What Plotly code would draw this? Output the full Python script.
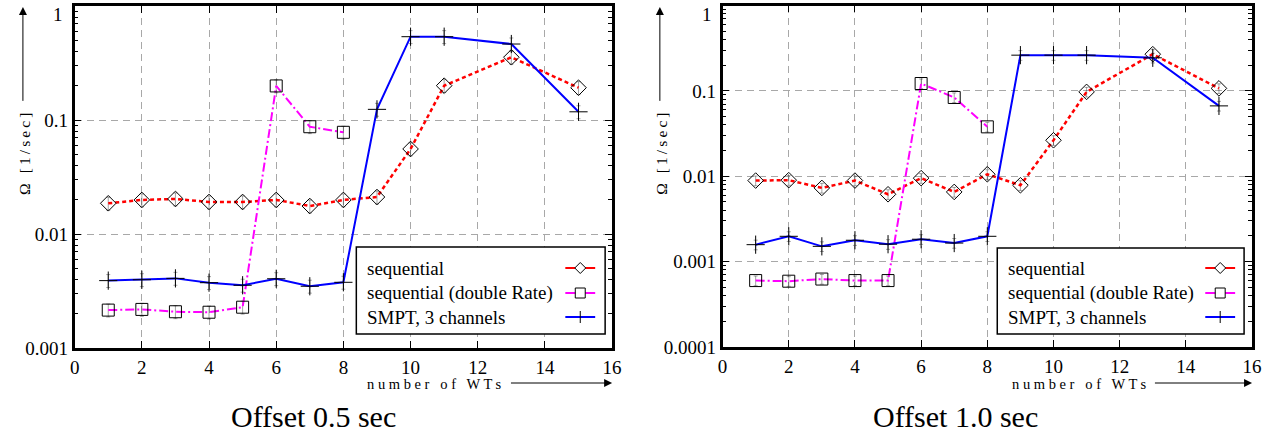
import plotly.graph_objects as go

W, H = 1263, 432          # reference picture size (layout coordinates below)
FW, FH = 1271, 443        # figure size that the capture maps onto W x H

# ---------------- data ----------------
x_seq = [1, 2, 3, 4, 5, 6, 7, 8, 9, 10, 11, 13, 15]
x_dbl = [1, 2, 3, 4, 5, 6, 7, 8]
x_smpt = [1, 2, 3, 4, 5, 6, 7, 8, 9, 10, 11, 13, 15]

# Offset 0.5 sec
seq_05 = [0.0186, 0.0199, 0.0203, 0.0191, 0.0191, 0.0199, 0.0176, 0.0199, 0.0211, 0.0557, 0.200, 0.355, 0.192]
dbl_05 = [0.00215, 0.00218, 0.00208, 0.00206, 0.00228, 0.199, 0.0873, 0.078]
smpt_05 = [0.0039, 0.00397, 0.00408, 0.00374, 0.00355, 0.00405, 0.00348, 0.00377, 0.124, 0.538, 0.538, 0.464, 0.118]

# Offset 1.0 sec
seq_10 = [0.0089, 0.0090, 0.0073, 0.0089, 0.00615, 0.0095, 0.00655, 0.01055, 0.00784, 0.0264, 0.0973, 0.269, 0.107]
dbl_10 = [0.00060, 0.00059, 0.000625, 0.00060, 0.00060, 0.122, 0.0837, 0.0379]
smpt_10 = [0.00158, 0.00198, 0.00151, 0.00178, 0.0016, 0.00183, 0.00165, 0.00198, 0.262, 0.262, 0.262, 0.244, 0.0667]

err_pct = 13  # relative error bar size (%)

series_names = ["sequential", "sequential (double Rate)", "SMPT, 3 channels"]
titles = ["Offset 0.5 sec", "Offset 1.0 sec"]
x_ticks = [0, 2, 4, 6, 8, 10, 12, 14, 16]
y_ticks_left = [0.001, 0.01, 0.1, 1]
y_ticks_right = [0.0001, 0.001, 0.01, 0.1, 1]
y_text_left = ["0.001", "0.01", "0.1", ""]
y_text_right = ["0.0001", "0.001", "0.01", "0.1", ""]
top_tick_label = "1"   # drawn just below the top edge, as in the reference
y_label = "\u2009".join("Ω [1/sec]")
x_label = "n u m b e r   o f   W T s"

# ---------------- styles ----------------
FONT = "Liberation Serif"
RED, MAG, BLUE = "#ff0000", "#ff00ff", "#0000ff"
styles = [
    dict(color=RED, dash="4px,3px", width=2.5, symbol="diamond-open", size=12),
    dict(color=MAG, dash="9px,3px,2px,3px", width=2, symbol="square-open", size=12),
    dict(color=BLUE, dash="solid", width=2, symbol="cross-thin-open", size=13),
]

fig = go.Figure()


def add_series(xs, ys, st, xa, ya):
    fig.add_trace(go.Scatter(
        x=xs, y=ys, mode="lines+markers", xaxis=xa, yaxis=ya, showlegend=False,
        line=dict(color=st["color"], dash=st["dash"], width=st["width"]),
        marker=dict(symbol=st["symbol"], size=st["size"], color="black",
                    line=dict(width=1, color="black")),
        error_y=dict(type="percent", value=err_pct, thickness=0.8, width=2,
                     color="rgba(0,0,0,0.45)"),
    ))


data_sets = [
    ("x", "y", [(x_seq, seq_05), (x_dbl, dbl_05), (x_smpt, smpt_05)]),
    ("x2", "y2", [(x_seq, seq_10), (x_dbl, dbl_10), (x_smpt, smpt_10)]),
]
for xa, ya, sets in data_sets:
    for (xs, ys), st in zip(sets, styles):
        add_series(xs, ys, st, xa, ya)


def px(x):
    return x / W


def py(y):
    return 1 - y / H


SX, SY = FW / W, FH / H

# panel geometry in reference pixels
panels = [
    dict(x0=70, x1=610, y0=6, y1=348, ylab_x=20, title_x=310, one_x=60,
         leg=(353, 247, 603, 334), leg_text_x=362, leg_sym=(563, 593),
         xl_x=362, arrow=(508, 610)),
    dict(x0=721, x1=1253, y0=5.5, y1=347, ylab_x=660, title_x=955, one_x=712,
         leg=(997, 248, 1245, 334), leg_text_x=1006, leg_sym=(1206, 1236),
         xl_x=1010, arrow=(1155, 1253)),
]

axis_common = dict(
    showline=True, linewidth=2.5, linecolor="black", mirror="allticks",
    ticks="inside", tickcolor="black", ticklen=7, tickwidth=1,
    tickfont=dict(family=FONT, size=19, color="black"),
    showgrid=True, gridcolor="#a8a8a8", gridwidth=1, griddash="7px,5px",
    zeroline=False,
)


def minor_vals(lo, hi):
    vals = []
    for e in range(lo, hi):
        for m in range(2, 10):
            vals.append(m * 10 ** e)
    return vals


layout = dict(
    width=FW, height=FH, margin=dict(l=0, r=0, t=0, b=0, pad=0),
    paper_bgcolor="white", plot_bgcolor="white", showlegend=False,
    font=dict(family=FONT, size=17, color="black"),
)

for i, p in enumerate(panels):
    sfx = "" if i == 0 else "2"
    yt = y_ticks_left if i == 0 else y_ticks_right
    ytt = y_text_left if i == 0 else y_text_right
    lo = -3 if i == 0 else -4
    layout["xaxis" + sfx] = dict(
        axis_common, domain=[px(p["x0"]), px(p["x1"])], range=[0, 16],
        tickmode="array", tickvals=x_ticks, ticktext=[str(v) for v in x_ticks],
        anchor="y" + sfx,
    )
    layout["yaxis" + sfx] = dict(
        axis_common, type="log", domain=[py(p["y1"]), py(p["y0"])], range=[lo, 0],
        tickmode="array", tickvals=yt, ticktext=ytt,
        anchor="x" + sfx,
        minor=dict(tickmode="array", tickvals=minor_vals(lo, 0), ticks="inside",
                   ticklen=4, tickcolor="black", showgrid=False),
    )

fig.update_layout(**layout)

shapes = []
annotations = []
for i, p in enumerate(panels):
    # top "1" tick label
    annotations.append(dict(
        x=px(p["one_x"]), y=py(15), xref="paper", yref="paper", text=top_tick_label,
        xanchor="right", yanchor="middle", showarrow=False,
        font=dict(family=FONT, size=19, color="black"),
    ))
    # y label + arrow
    annotations.append(dict(
        x=px(p["ylab_x"]), y=py(154), xref="paper", yref="paper", text=y_label,
        xanchor="center", yanchor="middle",
        textangle=-90, showarrow=False, font=dict(family=FONT, size=15.5, color="black"),
    ))
    annotations.append(dict(
        x=px(p["ylab_x"] - 2), y=py(7), xref="paper", yref="paper", text="",
        showarrow=True, ax=0, ay=93 * SY, axref="pixel", ayref="pixel",
        arrowhead=2, arrowsize=1.6, arrowwidth=1, arrowcolor="black",
    ))
    # x label + arrow
    annotations.append(dict(
        x=px(p["xl_x"]), y=py(384), xref="paper", yref="paper",
        xanchor="left", yanchor="middle",
        text=x_label, showarrow=False,
        font=dict(family=FONT, size=14.5, color="black"),
    ))
    annotations.append(dict(
        x=px(p["arrow"][1]), y=py(383), xref="paper", yref="paper", text="",
        showarrow=True, ax=-(p["arrow"][1] - p["arrow"][0]) * SX, ay=0,
        axref="pixel", ayref="pixel",
        arrowhead=2, arrowsize=1.6, arrowwidth=1, arrowcolor="black",
    ))
    # subplot title
    annotations.append(dict(
        x=px(p["title_x"]), y=py(416), xref="paper", yref="paper", text=titles[i],
        xanchor="center", yanchor="middle",
        showarrow=False, font=dict(family=FONT, size=30, color="black"),
    ))
    # legend box
    lx0, ly0, lx1, ly1 = p["leg"]
    shapes.append(dict(type="rect", xref="paper", yref="paper",
                       x0=px(lx0), x1=px(lx1), y0=py(ly1), y1=py(ly0),
                       line=dict(color="black", width=1.5), fillcolor="white", layer="above"))
    rows = [268, 293, 317]
    sx0, sx1 = p["leg_sym"]
    cx = (sx0 + sx1) / 2
    for name, st, ry in zip(series_names, styles, rows):
        annotations.append(dict(
            x=px(p["leg_text_x"]), y=py(ry), xref="paper", yref="paper",
            xanchor="left", yanchor="middle",
            text=name, showarrow=False, font=dict(family=FONT, size=19, color="black"),
        ))
        shapes.append(dict(type="line", xref="paper", yref="paper",
                           x0=px(sx0), x1=px(sx1), y0=py(ry), y1=py(ry),
                           line=dict(color=st["color"], width=2), layer="above"))
        r = 5.5
        if st["symbol"].startswith("diamond"):
            path = "M %f %f L %f %f L %f %f L %f %f Z" % (
                px(cx - r), py(ry), px(cx), py(ry - r), px(cx + r), py(ry), px(cx), py(ry + r))
            shapes.append(dict(type="path", xref="paper", yref="paper", path=path,
                               fillcolor="white", line=dict(color="black", width=1), layer="above"))
        elif st["symbol"].startswith("square"):
            rr = 5
            shapes.append(dict(type="rect", xref="paper", yref="paper",
                               x0=px(cx - rr), x1=px(cx + rr), y0=py(ry + rr), y1=py(ry - rr),
                               fillcolor="white", line=dict(color="black", width=1), layer="above"))
        else:
            rr = 6
            shapes.append(dict(type="line", xref="paper", yref="paper",
                               x0=px(cx), x1=px(cx), y0=py(ry + rr), y1=py(ry - rr),
                               line=dict(color="black", width=1), layer="above"))

fig.update_layout(shapes=shapes, annotations=annotations)

post = (
    "document.documentElement.style.margin='0';"
    "document.documentElement.style.overflow='hidden';"
    "document.body.style.margin='0';"
    "document.body.style.overflow='hidden';"
    "var d=document.querySelector('.plotly-graph-div');"
    "if(d){d.style.position='fixed';d.style.left='0px';d.style.top='0px';}"
)
fig.write_html("out.html", config={"displayModeBar": False}, post_script=post)
